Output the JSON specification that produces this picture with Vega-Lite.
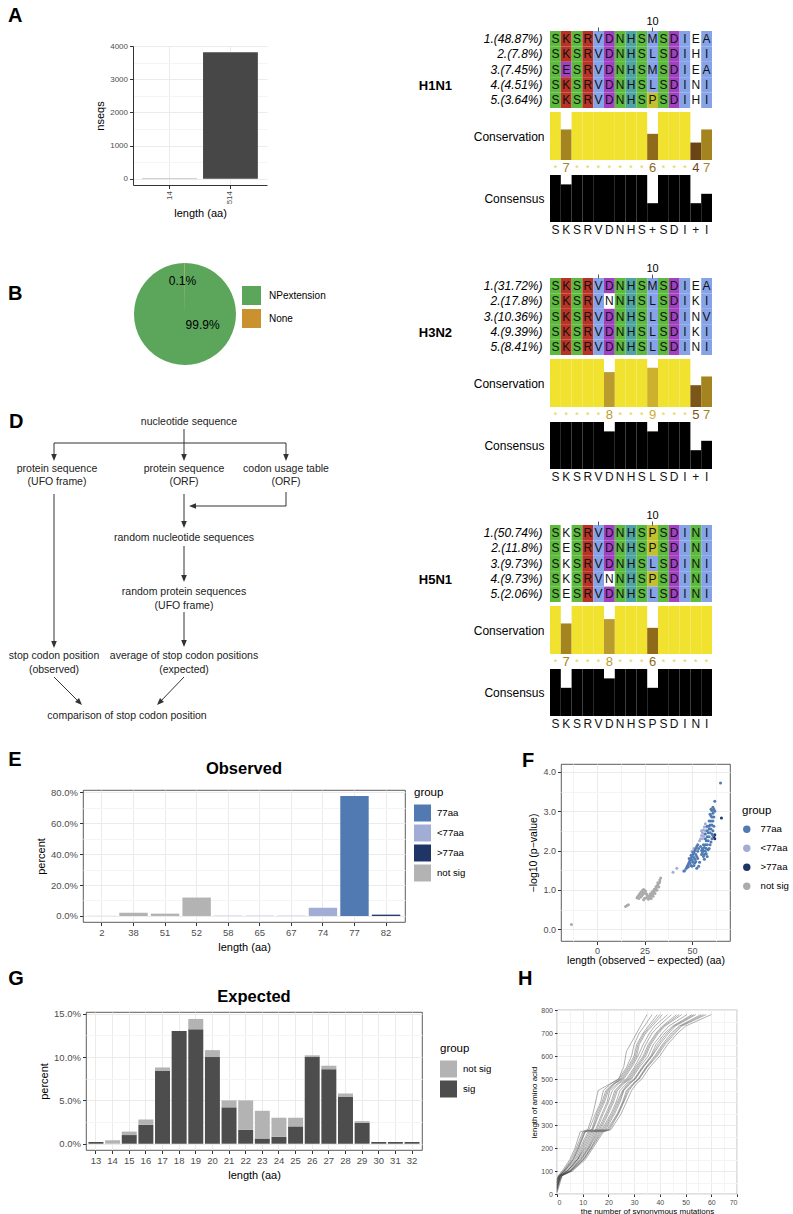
{
"$schema":"https://vega.github.io/schema/vega-lite/v6.json",
"background":"white",
"padding":{"left":7,"top":5,"right":0,"bottom":0},
"config":{
 "font":"Liberation Sans",
 "view":{"stroke":"#333333","strokeWidth":0.8},
 "axis":{"labelColor":"#4D4D4D","labelFontSize":9.5,"titleColor":"#000000","titleFontSize":11,"titleFontWeight":"normal","tickColor":"#333333","tickSize":3.5,"domain":false,"gridColor":"#EBEBEB","gridWidth":1,"labelPadding":2,"titlePadding":4},
 "legend":{"titleFontSize":11.5,"titleFontWeight":"normal","titleColor":"#000000","labelFontSize":9.6,"labelColor":"#000000","symbolStrokeWidth":0},
 "title":{"fontSize":20,"fontWeight":"bold","color":"#000000","anchor":"start"}
},
"spacing":18,
"resolve":{"scale":{"color":"independent"},"legend":{"color":"independent"}},
"vconcat":[
{
 "spacing":89,
 "resolve":{"scale":{"color":"independent"},"legend":{"color":"independent"}},
 "hconcat":[
 {
  "spacing":0,
  "resolve":{"scale":{"color":"independent"},"legend":{"color":"independent"}},
  "vconcat":[
  {"width":1,"height":1,"view":{"stroke":null},"data":{"values":[]},"mark":"point"},
  {
  "spacing":43,
  "resolve":{"scale":{"color":"independent"},"legend":{"color":"independent"}},
  "vconcat":[
  {"spacing":0,"resolve":{"scale":{"color":"independent"},"legend":{"color":"independent"}},"hconcat":[
  {"width":1,"height":1,"view":{"stroke":null},"data":{"values":[]},"mark":"point"},
  {
   "title":{"text":"A","frame":"group","dx":-125,"offset":16},
   "width":134,"height":139,
   "view":{"stroke":null},
   "data":{"values":[{"len":14,"n":5},{"len":514,"n":3810}]},
   "mark":{"type":"bar","color":"#474747"},
   "encoding":{
    "x":{"field":"len","type":"ordinal","title":"length (aa)","scale":{"paddingInner":0.1,"paddingOuter":0.15},
         "axis":{"labelAngle":-90,"labelFontSize":8,"grid":true,"bandPosition":0.5,"domain":true,"domainColor":"#333333"}},
    "y":{"field":"n","type":"quantitative","title":"nseqs","scale":{"domain":[-190,4000],"nice":false},
         "axis":{"values":[0,500,1000,1500,2000,2500,3000,3500,4000],"format":"d","labelExpr":"datum.value % 1000 == 0 ? datum.label : ''",
                 "tickOpacity":{"condition":{"test":"datum.value % 1000 != 0","value":0},"value":1},
                 "gridColor":{"condition":{"test":"datum.value % 1000 != 0","value":"#F4F4F4"},"value":"#EBEBEB"},
                 "labelFontSize":8,"domain":true,"domainColor":"#333333"}}
   }
  }]},
  {"spacing":0,"resolve":{"scale":{"color":"independent"},"legend":{"color":"independent"}},"hconcat":[
  {"width":1,"height":1,"view":{"stroke":null},"data":{"values":[]},"mark":"point"},
  {
   "title":{"text":"B","frame":"group","dx":-125,"offset":0,"dy":42},
   "width":104,"height":104,
   "view":{"stroke":null},
   "data":{"values":[{"g":"NPextension","p":99.9,"lab":"99.9%"},{"g":"None","p":0.1,"lab":"0.1%"}]},
   "encoding":{"theta":{"field":"p","type":"quantitative","stack":true}},
   "layer":[
    {"mark":{"type":"arc","outerRadius":51},
     "encoding":{"color":{"field":"g","type":"nominal","scale":{"domain":["NPextension","None"],"range":["#5CA65C","#C9922E"]},
       "legend":{"title":null,"orient":"none","legendX":109,"legendY":24,"symbolType":"square","symbolSize":361,"labelFontSize":10,"rowPadding":4,"labelOffset":8}}}},
    {"mark":{"type":"text","fontSize":12,"color":"#000000","radius":{"expr":"datum.g == 'None' ? 33 : 21"},"thetaOffset":{"expr":"datum.g == 'None' ? -0.08 : -1.0"}},
     "encoding":{"text":{"field":"lab"}}}
   ]
  }]},
  {"spacing":0,"resolve":{"scale":{"color":"independent"},"legend":{"color":"independent"}},"hconcat":[
  {"width":1,"height":1,"view":{"stroke":null},"data":{"values":[]},"mark":"point"},
  {
   "title":{"text":"D","frame":"group","dx":0,"offset":0,"dy":23},
   "width":312,"height":318,
   "view":{"stroke":null},
   "layer":[
    {"data":{"values":[
      {"x1":175,"y1":20,"x2":175,"y2":50},
      {"x1":45,"y1":34,"x2":277,"y2":34},
      {"x1":45,"y1":34,"x2":45,"y2":50},
      {"x1":277,"y1":34,"x2":277,"y2":50},
      {"x1":277,"y1":83,"x2":277,"y2":97},
      {"x1":277,"y1":97,"x2":184,"y2":97},
      {"x1":175,"y1":85,"x2":175,"y2":117},
      {"x1":175,"y1":137,"x2":175,"y2":171},
      {"x1":175,"y1":203,"x2":175,"y2":236},
      {"x1":45,"y1":85,"x2":45,"y2":237},
      {"x1":45,"y1":268,"x2":71,"y2":294},
      {"x1":175,"y1":268,"x2":150,"y2":294}
     ]},
     "mark":{"type":"rule","color":"#333333","strokeWidth":1},
     "encoding":{
      "x":{"field":"x1","type":"quantitative","scale":{"domain":[0,312],"nice":false},"axis":null},
      "y":{"field":"y1","type":"quantitative","scale":{"domain":[0,318],"nice":false,"reverse":true},"axis":null},
      "x2":{"field":"x2"},"y2":{"field":"y2"}}},
    {"data":{"values":[
      {"x":175,"y":52,"ang":0},{"x":45,"y":52,"ang":0},{"x":277,"y":52,"ang":0},
      {"x":180,"y":97,"ang":90},{"x":175,"y":119,"ang":0},{"x":175,"y":173,"ang":0},
      {"x":175,"y":238,"ang":0},{"x":45,"y":239,"ang":0},
      {"x":73,"y":296,"ang":-45},{"x":148,"y":296,"ang":45}
     ]},
     "mark":{"type":"point","shape":"M0,0L-0.4,-1L0.4,-1Z","filled":true,"color":"#333333","size":196,"opacity":1,"strokeWidth":0},
     "encoding":{
      "x":{"field":"x","type":"quantitative","scale":{"domain":[0,312],"nice":false},"axis":null},
      "y":{"field":"y","type":"quantitative","scale":{"domain":[0,318],"nice":false,"reverse":true},"axis":null},
      "angle":{"field":"ang","type":"quantitative","scale":null}}},
    {"data":{"values":[
      {"t":"nucleotide sequence","x":180,"y":13},
      {"t":"protein sequence","x":48,"y":60},{"t":"(UFO frame)","x":48,"y":73},
      {"t":"protein sequence","x":175,"y":60},{"t":"(ORF)","x":175,"y":73},
      {"t":"codon usage table","x":277,"y":60},{"t":"(ORF)","x":277,"y":73},
      {"t":"random nucleotide sequences","x":175,"y":129},
      {"t":"random protein sequences","x":175,"y":183},{"t":"(UFO frame)","x":175,"y":197},
      {"t":"stop codon position","x":45,"y":247},{"t":"(observed)","x":45,"y":261},
      {"t":"average of stop codon positions","x":175,"y":247},{"t":"(expected)","x":175,"y":261},
      {"t":"comparison of stop codon position","x":118,"y":307}
     ]},
     "mark":{"type":"text","fontSize":10.5,"color":"#222222"},
     "encoding":{
      "x":{"field":"x","type":"quantitative","scale":{"domain":[0,312],"nice":false},"axis":null},
      "y":{"field":"y","type":"quantitative","scale":{"domain":[0,318],"nice":false,"reverse":true},"axis":null},
      "text":{"field":"t"}}}
   ]
  }]}
  ]
  }
  ]
 },
 {
  "spacing":9,
  "resolve":{"scale":{"color":"independent"},"legend":{"color":"independent"}},
  "vconcat":[
  {"width":1,"height":1,"view":{"stroke":null},"data":{"values":[]},"mark":"point"},
  {
  "spacing":25,
  "resolve":{"scale":{"color":"independent"},"legend":{"color":"independent"}},
  "vconcat":[
  {
   "title":{"text":"H1N1","orient":"left","angle":0,"align":"right","baseline":"middle","anchor":"middle","fontSize":13,"fontWeight":"bold","offset":0,"dx":12,"dy":-40},
   "spacing":0,
   "bounds":"flush",
   "resolve":{"scale":{"color":"independent"},"legend":{"color":"independent"}},
   "vconcat":[
    {"width":162,"height":77,"view":{"stroke":null},
     "data":{"values":[
{"r":"1.(48.87%)","p":1,"a":"S","c":"g"},{"r":"1.(48.87%)","p":2,"a":"K","c":"r"},{"r":"1.(48.87%)","p":3,"a":"S","c":"g"},{"r":"1.(48.87%)","p":4,"a":"R","c":"r"},{"r":"1.(48.87%)","p":5,"a":"V","c":"b"},{"r":"1.(48.87%)","p":6,"a":"D","c":"m"},{"r":"1.(48.87%)","p":7,"a":"N","c":"g"},{"r":"1.(48.87%)","p":8,"a":"H","c":"t"},{"r":"1.(48.87%)","p":9,"a":"S","c":"g"},{"r":"1.(48.87%)","p":10,"a":"M","c":"b"},{"r":"1.(48.87%)","p":11,"a":"S","c":"g"},{"r":"1.(48.87%)","p":12,"a":"D","c":"m"},{"r":"1.(48.87%)","p":13,"a":"I","c":"b"},{"r":"1.(48.87%)","p":14,"a":"E","c":"w"},{"r":"1.(48.87%)","p":15,"a":"A","c":"b"},
{"r":"2.(7.8%)","p":1,"a":"S","c":"g"},{"r":"2.(7.8%)","p":2,"a":"K","c":"r"},{"r":"2.(7.8%)","p":3,"a":"S","c":"g"},{"r":"2.(7.8%)","p":4,"a":"R","c":"r"},{"r":"2.(7.8%)","p":5,"a":"V","c":"b"},{"r":"2.(7.8%)","p":6,"a":"D","c":"m"},{"r":"2.(7.8%)","p":7,"a":"N","c":"g"},{"r":"2.(7.8%)","p":8,"a":"H","c":"t"},{"r":"2.(7.8%)","p":9,"a":"S","c":"g"},{"r":"2.(7.8%)","p":10,"a":"L","c":"b"},{"r":"2.(7.8%)","p":11,"a":"S","c":"g"},{"r":"2.(7.8%)","p":12,"a":"D","c":"m"},{"r":"2.(7.8%)","p":13,"a":"I","c":"b"},{"r":"2.(7.8%)","p":14,"a":"H","c":"w"},{"r":"2.(7.8%)","p":15,"a":"I","c":"b"},
{"r":"3.(7.45%)","p":1,"a":"S","c":"g"},{"r":"3.(7.45%)","p":2,"a":"E","c":"m"},{"r":"3.(7.45%)","p":3,"a":"S","c":"g"},{"r":"3.(7.45%)","p":4,"a":"R","c":"r"},{"r":"3.(7.45%)","p":5,"a":"V","c":"b"},{"r":"3.(7.45%)","p":6,"a":"D","c":"m"},{"r":"3.(7.45%)","p":7,"a":"N","c":"g"},{"r":"3.(7.45%)","p":8,"a":"H","c":"t"},{"r":"3.(7.45%)","p":9,"a":"S","c":"g"},{"r":"3.(7.45%)","p":10,"a":"M","c":"b"},{"r":"3.(7.45%)","p":11,"a":"S","c":"g"},{"r":"3.(7.45%)","p":12,"a":"D","c":"m"},{"r":"3.(7.45%)","p":13,"a":"I","c":"b"},{"r":"3.(7.45%)","p":14,"a":"E","c":"w"},{"r":"3.(7.45%)","p":15,"a":"A","c":"b"},
{"r":"4.(4.51%)","p":1,"a":"S","c":"g"},{"r":"4.(4.51%)","p":2,"a":"K","c":"r"},{"r":"4.(4.51%)","p":3,"a":"S","c":"g"},{"r":"4.(4.51%)","p":4,"a":"R","c":"r"},{"r":"4.(4.51%)","p":5,"a":"V","c":"b"},{"r":"4.(4.51%)","p":6,"a":"D","c":"m"},{"r":"4.(4.51%)","p":7,"a":"N","c":"g"},{"r":"4.(4.51%)","p":8,"a":"H","c":"t"},{"r":"4.(4.51%)","p":9,"a":"S","c":"g"},{"r":"4.(4.51%)","p":10,"a":"L","c":"b"},{"r":"4.(4.51%)","p":11,"a":"S","c":"g"},{"r":"4.(4.51%)","p":12,"a":"D","c":"m"},{"r":"4.(4.51%)","p":13,"a":"I","c":"b"},{"r":"4.(4.51%)","p":14,"a":"N","c":"w"},{"r":"4.(4.51%)","p":15,"a":"I","c":"b"},
{"r":"5.(3.64%)","p":1,"a":"S","c":"g"},{"r":"5.(3.64%)","p":2,"a":"K","c":"r"},{"r":"5.(3.64%)","p":3,"a":"S","c":"g"},{"r":"5.(3.64%)","p":4,"a":"R","c":"r"},{"r":"5.(3.64%)","p":5,"a":"V","c":"b"},{"r":"5.(3.64%)","p":6,"a":"D","c":"m"},{"r":"5.(3.64%)","p":7,"a":"N","c":"g"},{"r":"5.(3.64%)","p":8,"a":"H","c":"t"},{"r":"5.(3.64%)","p":9,"a":"S","c":"g"},{"r":"5.(3.64%)","p":10,"a":"P","c":"y"},{"r":"5.(3.64%)","p":11,"a":"S","c":"g"},{"r":"5.(3.64%)","p":12,"a":"D","c":"m"},{"r":"5.(3.64%)","p":13,"a":"I","c":"b"},{"r":"5.(3.64%)","p":14,"a":"H","c":"w"},{"r":"5.(3.64%)","p":15,"a":"I","c":"b"}
     ]},
     "encoding":{
      "x":{"field":"p","type":"ordinal","scale":{"paddingInner":0,"paddingOuter":0},"axis":{"orient":"top","values":[5,10],"labelExpr":"datum.value == 10 ? '10' : ''","title":null,"grid":false,"tickSize":4,"tickColor":"#555555","labelAngle":0,"labelFontSize":11,"labelColor":"#000000","labelPadding":1}},
      "y":{"field":"r","type":"ordinal","sort":null,"scale":{"paddingInner":0,"paddingOuter":0},"axis":{"title":null,"ticks":false,"grid":false,"labelFontSize":12,"labelFontStyle":"italic","labelColor":"#000000","labelPadding":8}}
     },
     "layer":[
      {"mark":{"type":"rect"},"encoding":{"color":{"field":"c","type":"nominal","scale":{"domain":["g","r","b","m","t","y","w"],"range":["#5CBA3C","#B83226","#86A3E8","#A23FC2","#4FA3A3","#C4BF2F","#FFFFFF"]},"legend":null}}},
      {"mark":{"type":"text","fontSize":12,"color":"#111111"},"encoding":{"text":{"field":"a"}}}
     ]},
    {"width":162,"height":52,"view":{"stroke":null},
     "data":{"values":[{"p":1,"v":11,"s":"*"},{"p":2,"v":7,"s":"7"},{"p":3,"v":11,"s":"*"},{"p":4,"v":11,"s":"*"},{"p":5,"v":11,"s":"*"},{"p":6,"v":11,"s":"*"},{"p":7,"v":11,"s":"*"},{"p":8,"v":11,"s":"*"},{"p":9,"v":11,"s":"*"},{"p":10,"v":6,"s":"6"},{"p":11,"v":11,"s":"*"},{"p":12,"v":11,"s":"*"},{"p":13,"v":11,"s":"*"},{"p":14,"v":4,"s":"4"},{"p":15,"v":7,"s":"7"}]},
     "mark":{"type":"bar"},
     "encoding":{
      "x":{"field":"p","type":"ordinal","scale":{"paddingInner":0,"paddingOuter":0},"axis":null},
      "y":{"field":"v","type":"quantitative","scale":{"domain":[0,11.92],"nice":false},"axis":{"title":"Conservation","titleAngle":0,"titleAlign":"right","titleBaseline":"middle","titleX":-6,"titleY":28,"titleFontSize":12,"labels":false,"ticks":false,"grid":false}},
      "color":{"field":"s","type":"nominal","scale":{"domain":["*","9","8","7","6","5","4"],"range":["#F0E22F","#CDB12C","#B99C2D","#A3841F","#8E6A1A","#7C5518","#6B4415"]},"legend":null}
     }},
    {"width":162,"height":15,"view":{"stroke":null},
     "data":{"values":[{"p":1,"s":"*"},{"p":2,"s":"7"},{"p":3,"s":"*"},{"p":4,"s":"*"},{"p":5,"s":"*"},{"p":6,"s":"*"},{"p":7,"s":"*"},{"p":8,"s":"*"},{"p":9,"s":"*"},{"p":10,"s":"6"},{"p":11,"s":"*"},{"p":12,"s":"*"},{"p":13,"s":"*"},{"p":14,"s":"4"},{"p":15,"s":"7"}]},
     "mark":{"type":"text","baseline":"middle"},
     "encoding":{
      "x":{"field":"p","type":"ordinal","scale":{"paddingInner":0,"paddingOuter":0},"axis":null},
      "text":{"field":"s"},
      "size":{"condition":{"test":"datum.s == '*'","value":9},"value":13},
      "color":{"field":"s","type":"nominal","scale":{"domain":["*","9","8","7","6","5","4"],"range":["#E6D43A","#C9AE2E","#B99C2D","#A3841F","#8E6A1A","#7C5518","#6B4415"]},"legend":null}
     }},
    {"width":162,"height":47,"view":{"stroke":null},
     "data":{"values":[{"p":1,"v":100},{"p":2,"v":80},{"p":3,"v":100},{"p":4,"v":100},{"p":5,"v":100},{"p":6,"v":100},{"p":7,"v":100},{"p":8,"v":100},{"p":9,"v":100},{"p":10,"v":40},{"p":11,"v":100},{"p":12,"v":100},{"p":13,"v":100},{"p":14,"v":40},{"p":15,"v":60}]},
     "mark":{"type":"bar","color":"#000000"},
     "encoding":{
      "x":{"field":"p","type":"ordinal","scale":{"paddingInner":0,"paddingOuter":0},"axis":null},
      "y":{"field":"v","type":"quantitative","scale":{"domain":[0,100],"nice":false},"axis":{"title":"Consensus","titleAngle":0,"titleAlign":"right","titleBaseline":"middle","titleX":-6,"titleY":23,"titleFontSize":12,"labels":false,"ticks":false,"grid":false}}
     }},
    {"width":162,"height":15,"view":{"stroke":null},
     "data":{"values":[{"p":1,"l":"S"},{"p":2,"l":"K"},{"p":3,"l":"S"},{"p":4,"l":"R"},{"p":5,"l":"V"},{"p":6,"l":"D"},{"p":7,"l":"N"},{"p":8,"l":"H"},{"p":9,"l":"S"},{"p":10,"l":"+"},{"p":11,"l":"S"},{"p":12,"l":"D"},{"p":13,"l":"I"},{"p":14,"l":"+"},{"p":15,"l":"I"}]},
     "mark":{"type":"text","fontSize":12,"color":"#111111"},
     "encoding":{"x":{"field":"p","type":"ordinal","scale":{"paddingInner":0,"paddingOuter":0},"axis":null},"text":{"field":"l"}}}
   ]
  },
  {
   "title":{"text":"H3N2","orient":"left","angle":0,"align":"right","baseline":"middle","anchor":"middle","fontSize":13,"fontWeight":"bold","offset":0,"dx":12,"dy":-40},
   "spacing":0,
   "bounds":"flush",
   "resolve":{"scale":{"color":"independent"},"legend":{"color":"independent"}},
   "vconcat":[
    {"width":162,"height":77,"view":{"stroke":null},
     "data":{"values":[
{"r":"1.(31.72%)","p":1,"a":"S","c":"g"},{"r":"1.(31.72%)","p":2,"a":"K","c":"r"},{"r":"1.(31.72%)","p":3,"a":"S","c":"g"},{"r":"1.(31.72%)","p":4,"a":"R","c":"r"},{"r":"1.(31.72%)","p":5,"a":"V","c":"b"},{"r":"1.(31.72%)","p":6,"a":"D","c":"m"},{"r":"1.(31.72%)","p":7,"a":"N","c":"g"},{"r":"1.(31.72%)","p":8,"a":"H","c":"t"},{"r":"1.(31.72%)","p":9,"a":"S","c":"g"},{"r":"1.(31.72%)","p":10,"a":"M","c":"b"},{"r":"1.(31.72%)","p":11,"a":"S","c":"g"},{"r":"1.(31.72%)","p":12,"a":"D","c":"m"},{"r":"1.(31.72%)","p":13,"a":"I","c":"b"},{"r":"1.(31.72%)","p":14,"a":"E","c":"w"},{"r":"1.(31.72%)","p":15,"a":"A","c":"b"},
{"r":"2.(17.8%)","p":1,"a":"S","c":"g"},{"r":"2.(17.8%)","p":2,"a":"K","c":"r"},{"r":"2.(17.8%)","p":3,"a":"S","c":"g"},{"r":"2.(17.8%)","p":4,"a":"R","c":"r"},{"r":"2.(17.8%)","p":5,"a":"V","c":"b"},{"r":"2.(17.8%)","p":6,"a":"N","c":"w"},{"r":"2.(17.8%)","p":7,"a":"N","c":"g"},{"r":"2.(17.8%)","p":8,"a":"H","c":"t"},{"r":"2.(17.8%)","p":9,"a":"S","c":"g"},{"r":"2.(17.8%)","p":10,"a":"L","c":"b"},{"r":"2.(17.8%)","p":11,"a":"S","c":"g"},{"r":"2.(17.8%)","p":12,"a":"D","c":"m"},{"r":"2.(17.8%)","p":13,"a":"I","c":"b"},{"r":"2.(17.8%)","p":14,"a":"K","c":"w"},{"r":"2.(17.8%)","p":15,"a":"I","c":"b"},
{"r":"3.(10.36%)","p":1,"a":"S","c":"g"},{"r":"3.(10.36%)","p":2,"a":"K","c":"r"},{"r":"3.(10.36%)","p":3,"a":"S","c":"g"},{"r":"3.(10.36%)","p":4,"a":"R","c":"r"},{"r":"3.(10.36%)","p":5,"a":"V","c":"b"},{"r":"3.(10.36%)","p":6,"a":"D","c":"m"},{"r":"3.(10.36%)","p":7,"a":"N","c":"g"},{"r":"3.(10.36%)","p":8,"a":"H","c":"t"},{"r":"3.(10.36%)","p":9,"a":"S","c":"g"},{"r":"3.(10.36%)","p":10,"a":"L","c":"b"},{"r":"3.(10.36%)","p":11,"a":"S","c":"g"},{"r":"3.(10.36%)","p":12,"a":"D","c":"m"},{"r":"3.(10.36%)","p":13,"a":"I","c":"b"},{"r":"3.(10.36%)","p":14,"a":"N","c":"w"},{"r":"3.(10.36%)","p":15,"a":"V","c":"b"},
{"r":"4.(9.39%)","p":1,"a":"S","c":"g"},{"r":"4.(9.39%)","p":2,"a":"K","c":"r"},{"r":"4.(9.39%)","p":3,"a":"S","c":"g"},{"r":"4.(9.39%)","p":4,"a":"R","c":"r"},{"r":"4.(9.39%)","p":5,"a":"V","c":"b"},{"r":"4.(9.39%)","p":6,"a":"D","c":"m"},{"r":"4.(9.39%)","p":7,"a":"N","c":"g"},{"r":"4.(9.39%)","p":8,"a":"H","c":"t"},{"r":"4.(9.39%)","p":9,"a":"S","c":"g"},{"r":"4.(9.39%)","p":10,"a":"L","c":"b"},{"r":"4.(9.39%)","p":11,"a":"S","c":"g"},{"r":"4.(9.39%)","p":12,"a":"D","c":"m"},{"r":"4.(9.39%)","p":13,"a":"I","c":"b"},{"r":"4.(9.39%)","p":14,"a":"K","c":"w"},{"r":"4.(9.39%)","p":15,"a":"I","c":"b"},
{"r":"5.(8.41%)","p":1,"a":"S","c":"g"},{"r":"5.(8.41%)","p":2,"a":"K","c":"r"},{"r":"5.(8.41%)","p":3,"a":"S","c":"g"},{"r":"5.(8.41%)","p":4,"a":"R","c":"r"},{"r":"5.(8.41%)","p":5,"a":"V","c":"b"},{"r":"5.(8.41%)","p":6,"a":"D","c":"m"},{"r":"5.(8.41%)","p":7,"a":"N","c":"g"},{"r":"5.(8.41%)","p":8,"a":"H","c":"t"},{"r":"5.(8.41%)","p":9,"a":"S","c":"g"},{"r":"5.(8.41%)","p":10,"a":"L","c":"b"},{"r":"5.(8.41%)","p":11,"a":"S","c":"g"},{"r":"5.(8.41%)","p":12,"a":"D","c":"m"},{"r":"5.(8.41%)","p":13,"a":"I","c":"b"},{"r":"5.(8.41%)","p":14,"a":"N","c":"w"},{"r":"5.(8.41%)","p":15,"a":"I","c":"b"}
     ]},
     "encoding":{
      "x":{"field":"p","type":"ordinal","scale":{"paddingInner":0,"paddingOuter":0},"axis":{"orient":"top","values":[5,10],"labelExpr":"datum.value == 10 ? '10' : ''","title":null,"grid":false,"tickSize":4,"tickColor":"#555555","labelAngle":0,"labelFontSize":11,"labelColor":"#000000","labelPadding":1}},
      "y":{"field":"r","type":"ordinal","sort":null,"scale":{"paddingInner":0,"paddingOuter":0},"axis":{"title":null,"ticks":false,"grid":false,"labelFontSize":12,"labelFontStyle":"italic","labelColor":"#000000","labelPadding":8}}
     },
     "layer":[
      {"mark":{"type":"rect"},"encoding":{"color":{"field":"c","type":"nominal","scale":{"domain":["g","r","b","m","t","y","w"],"range":["#5CBA3C","#B83226","#86A3E8","#A23FC2","#4FA3A3","#C4BF2F","#FFFFFF"]},"legend":null}}},
      {"mark":{"type":"text","fontSize":12,"color":"#111111"},"encoding":{"text":{"field":"a"}}}
     ]},
    {"width":162,"height":52,"view":{"stroke":null},
     "data":{"values":[{"p":1,"v":11,"s":"*"},{"p":2,"v":11,"s":"*"},{"p":3,"v":11,"s":"*"},{"p":4,"v":11,"s":"*"},{"p":5,"v":11,"s":"*"},{"p":6,"v":8,"s":"8"},{"p":7,"v":11,"s":"*"},{"p":8,"v":11,"s":"*"},{"p":9,"v":11,"s":"*"},{"p":10,"v":9,"s":"9"},{"p":11,"v":11,"s":"*"},{"p":12,"v":11,"s":"*"},{"p":13,"v":11,"s":"*"},{"p":14,"v":5,"s":"5"},{"p":15,"v":7,"s":"7"}]},
     "mark":{"type":"bar"},
     "encoding":{
      "x":{"field":"p","type":"ordinal","scale":{"paddingInner":0,"paddingOuter":0},"axis":null},
      "y":{"field":"v","type":"quantitative","scale":{"domain":[0,11.92],"nice":false},"axis":{"title":"Conservation","titleAngle":0,"titleAlign":"right","titleBaseline":"middle","titleX":-6,"titleY":28,"titleFontSize":12,"labels":false,"ticks":false,"grid":false}},
      "color":{"field":"s","type":"nominal","scale":{"domain":["*","9","8","7","6","5","4"],"range":["#F0E22F","#CDB12C","#B99C2D","#A3841F","#8E6A1A","#7C5518","#6B4415"]},"legend":null}
     }},
    {"width":162,"height":15,"view":{"stroke":null},
     "data":{"values":[{"p":1,"s":"*"},{"p":2,"s":"*"},{"p":3,"s":"*"},{"p":4,"s":"*"},{"p":5,"s":"*"},{"p":6,"s":"8"},{"p":7,"s":"*"},{"p":8,"s":"*"},{"p":9,"s":"*"},{"p":10,"s":"9"},{"p":11,"s":"*"},{"p":12,"s":"*"},{"p":13,"s":"*"},{"p":14,"s":"5"},{"p":15,"s":"7"}]},
     "mark":{"type":"text","baseline":"middle"},
     "encoding":{
      "x":{"field":"p","type":"ordinal","scale":{"paddingInner":0,"paddingOuter":0},"axis":null},
      "text":{"field":"s"},
      "size":{"condition":{"test":"datum.s == '*'","value":9},"value":13},
      "color":{"field":"s","type":"nominal","scale":{"domain":["*","9","8","7","6","5","4"],"range":["#E6D43A","#C9AE2E","#B99C2D","#A3841F","#8E6A1A","#7C5518","#6B4415"]},"legend":null}
     }},
    {"width":162,"height":47,"view":{"stroke":null},
     "data":{"values":[{"p":1,"v":100},{"p":2,"v":100},{"p":3,"v":100},{"p":4,"v":100},{"p":5,"v":100},{"p":6,"v":80},{"p":7,"v":100},{"p":8,"v":100},{"p":9,"v":100},{"p":10,"v":80},{"p":11,"v":100},{"p":12,"v":100},{"p":13,"v":100},{"p":14,"v":40},{"p":15,"v":60}]},
     "mark":{"type":"bar","color":"#000000"},
     "encoding":{
      "x":{"field":"p","type":"ordinal","scale":{"paddingInner":0,"paddingOuter":0},"axis":null},
      "y":{"field":"v","type":"quantitative","scale":{"domain":[0,100],"nice":false},"axis":{"title":"Consensus","titleAngle":0,"titleAlign":"right","titleBaseline":"middle","titleX":-6,"titleY":23,"titleFontSize":12,"labels":false,"ticks":false,"grid":false}}
     }},
    {"width":162,"height":15,"view":{"stroke":null},
     "data":{"values":[{"p":1,"l":"S"},{"p":2,"l":"K"},{"p":3,"l":"S"},{"p":4,"l":"R"},{"p":5,"l":"V"},{"p":6,"l":"D"},{"p":7,"l":"N"},{"p":8,"l":"H"},{"p":9,"l":"S"},{"p":10,"l":"L"},{"p":11,"l":"S"},{"p":12,"l":"D"},{"p":13,"l":"I"},{"p":14,"l":"+"},{"p":15,"l":"I"}]},
     "mark":{"type":"text","fontSize":12,"color":"#111111"},
     "encoding":{"x":{"field":"p","type":"ordinal","scale":{"paddingInner":0,"paddingOuter":0},"axis":null},"text":{"field":"l"}}}
   ]
  },
  {
   "title":{"text":"H5N1","orient":"left","angle":0,"align":"right","baseline":"middle","anchor":"middle","fontSize":13,"fontWeight":"bold","offset":0,"dx":12,"dy":-40},
   "spacing":0,
   "bounds":"flush",
   "resolve":{"scale":{"color":"independent"},"legend":{"color":"independent"}},
   "vconcat":[
    {"width":162,"height":77,"view":{"stroke":null},
     "data":{"values":[
{"r":"1.(50.74%)","p":1,"a":"S","c":"g"},{"r":"1.(50.74%)","p":2,"a":"K","c":"w"},{"r":"1.(50.74%)","p":3,"a":"S","c":"g"},{"r":"1.(50.74%)","p":4,"a":"R","c":"r"},{"r":"1.(50.74%)","p":5,"a":"V","c":"b"},{"r":"1.(50.74%)","p":6,"a":"D","c":"m"},{"r":"1.(50.74%)","p":7,"a":"N","c":"g"},{"r":"1.(50.74%)","p":8,"a":"H","c":"t"},{"r":"1.(50.74%)","p":9,"a":"S","c":"g"},{"r":"1.(50.74%)","p":10,"a":"P","c":"y"},{"r":"1.(50.74%)","p":11,"a":"S","c":"g"},{"r":"1.(50.74%)","p":12,"a":"D","c":"m"},{"r":"1.(50.74%)","p":13,"a":"I","c":"b"},{"r":"1.(50.74%)","p":14,"a":"N","c":"g"},{"r":"1.(50.74%)","p":15,"a":"I","c":"b"},
{"r":"2.(11.8%)","p":1,"a":"S","c":"g"},{"r":"2.(11.8%)","p":2,"a":"E","c":"w"},{"r":"2.(11.8%)","p":3,"a":"S","c":"g"},{"r":"2.(11.8%)","p":4,"a":"R","c":"r"},{"r":"2.(11.8%)","p":5,"a":"V","c":"b"},{"r":"2.(11.8%)","p":6,"a":"D","c":"m"},{"r":"2.(11.8%)","p":7,"a":"N","c":"g"},{"r":"2.(11.8%)","p":8,"a":"H","c":"t"},{"r":"2.(11.8%)","p":9,"a":"S","c":"g"},{"r":"2.(11.8%)","p":10,"a":"P","c":"y"},{"r":"2.(11.8%)","p":11,"a":"S","c":"g"},{"r":"2.(11.8%)","p":12,"a":"D","c":"m"},{"r":"2.(11.8%)","p":13,"a":"I","c":"b"},{"r":"2.(11.8%)","p":14,"a":"N","c":"g"},{"r":"2.(11.8%)","p":15,"a":"I","c":"b"},
{"r":"3.(9.73%)","p":1,"a":"S","c":"g"},{"r":"3.(9.73%)","p":2,"a":"K","c":"w"},{"r":"3.(9.73%)","p":3,"a":"S","c":"g"},{"r":"3.(9.73%)","p":4,"a":"R","c":"r"},{"r":"3.(9.73%)","p":5,"a":"V","c":"b"},{"r":"3.(9.73%)","p":6,"a":"D","c":"m"},{"r":"3.(9.73%)","p":7,"a":"N","c":"g"},{"r":"3.(9.73%)","p":8,"a":"H","c":"t"},{"r":"3.(9.73%)","p":9,"a":"S","c":"g"},{"r":"3.(9.73%)","p":10,"a":"L","c":"b"},{"r":"3.(9.73%)","p":11,"a":"S","c":"g"},{"r":"3.(9.73%)","p":12,"a":"D","c":"m"},{"r":"3.(9.73%)","p":13,"a":"I","c":"b"},{"r":"3.(9.73%)","p":14,"a":"N","c":"g"},{"r":"3.(9.73%)","p":15,"a":"I","c":"b"},
{"r":"4.(9.73%)","p":1,"a":"S","c":"g"},{"r":"4.(9.73%)","p":2,"a":"K","c":"w"},{"r":"4.(9.73%)","p":3,"a":"S","c":"g"},{"r":"4.(9.73%)","p":4,"a":"R","c":"r"},{"r":"4.(9.73%)","p":5,"a":"V","c":"b"},{"r":"4.(9.73%)","p":6,"a":"N","c":"w"},{"r":"4.(9.73%)","p":7,"a":"N","c":"g"},{"r":"4.(9.73%)","p":8,"a":"H","c":"t"},{"r":"4.(9.73%)","p":9,"a":"S","c":"g"},{"r":"4.(9.73%)","p":10,"a":"P","c":"y"},{"r":"4.(9.73%)","p":11,"a":"S","c":"g"},{"r":"4.(9.73%)","p":12,"a":"D","c":"m"},{"r":"4.(9.73%)","p":13,"a":"I","c":"b"},{"r":"4.(9.73%)","p":14,"a":"N","c":"g"},{"r":"4.(9.73%)","p":15,"a":"I","c":"b"},
{"r":"5.(2.06%)","p":1,"a":"S","c":"g"},{"r":"5.(2.06%)","p":2,"a":"E","c":"w"},{"r":"5.(2.06%)","p":3,"a":"S","c":"g"},{"r":"5.(2.06%)","p":4,"a":"R","c":"r"},{"r":"5.(2.06%)","p":5,"a":"V","c":"b"},{"r":"5.(2.06%)","p":6,"a":"D","c":"m"},{"r":"5.(2.06%)","p":7,"a":"N","c":"g"},{"r":"5.(2.06%)","p":8,"a":"H","c":"t"},{"r":"5.(2.06%)","p":9,"a":"S","c":"g"},{"r":"5.(2.06%)","p":10,"a":"L","c":"b"},{"r":"5.(2.06%)","p":11,"a":"S","c":"g"},{"r":"5.(2.06%)","p":12,"a":"D","c":"m"},{"r":"5.(2.06%)","p":13,"a":"I","c":"b"},{"r":"5.(2.06%)","p":14,"a":"N","c":"g"},{"r":"5.(2.06%)","p":15,"a":"I","c":"b"}
     ]},
     "encoding":{
      "x":{"field":"p","type":"ordinal","scale":{"paddingInner":0,"paddingOuter":0},"axis":{"orient":"top","values":[5,10],"labelExpr":"datum.value == 10 ? '10' : ''","title":null,"grid":false,"tickSize":4,"tickColor":"#555555","labelAngle":0,"labelFontSize":11,"labelColor":"#000000","labelPadding":1}},
      "y":{"field":"r","type":"ordinal","sort":null,"scale":{"paddingInner":0,"paddingOuter":0},"axis":{"title":null,"ticks":false,"grid":false,"labelFontSize":12,"labelFontStyle":"italic","labelColor":"#000000","labelPadding":8}}
     },
     "layer":[
      {"mark":{"type":"rect"},"encoding":{"color":{"field":"c","type":"nominal","scale":{"domain":["g","r","b","m","t","y","w"],"range":["#5CBA3C","#B83226","#86A3E8","#A23FC2","#4FA3A3","#C4BF2F","#FFFFFF"]},"legend":null}}},
      {"mark":{"type":"text","fontSize":12,"color":"#111111"},"encoding":{"text":{"field":"a"}}}
     ]},
    {"width":162,"height":52,"view":{"stroke":null},
     "data":{"values":[{"p":1,"v":11,"s":"*"},{"p":2,"v":7,"s":"7"},{"p":3,"v":11,"s":"*"},{"p":4,"v":11,"s":"*"},{"p":5,"v":11,"s":"*"},{"p":6,"v":8,"s":"8"},{"p":7,"v":11,"s":"*"},{"p":8,"v":11,"s":"*"},{"p":9,"v":11,"s":"*"},{"p":10,"v":6,"s":"6"},{"p":11,"v":11,"s":"*"},{"p":12,"v":11,"s":"*"},{"p":13,"v":11,"s":"*"},{"p":14,"v":11,"s":"*"},{"p":15,"v":11,"s":"*"}]},
     "mark":{"type":"bar"},
     "encoding":{
      "x":{"field":"p","type":"ordinal","scale":{"paddingInner":0,"paddingOuter":0},"axis":null},
      "y":{"field":"v","type":"quantitative","scale":{"domain":[0,11.92],"nice":false},"axis":{"title":"Conservation","titleAngle":0,"titleAlign":"right","titleBaseline":"middle","titleX":-6,"titleY":28,"titleFontSize":12,"labels":false,"ticks":false,"grid":false}},
      "color":{"field":"s","type":"nominal","scale":{"domain":["*","9","8","7","6","5","4"],"range":["#F0E22F","#CDB12C","#B99C2D","#A3841F","#8E6A1A","#7C5518","#6B4415"]},"legend":null}
     }},
    {"width":162,"height":15,"view":{"stroke":null},
     "data":{"values":[{"p":1,"s":"*"},{"p":2,"s":"7"},{"p":3,"s":"*"},{"p":4,"s":"*"},{"p":5,"s":"*"},{"p":6,"s":"8"},{"p":7,"s":"*"},{"p":8,"s":"*"},{"p":9,"s":"*"},{"p":10,"s":"6"},{"p":11,"s":"*"},{"p":12,"s":"*"},{"p":13,"s":"*"},{"p":14,"s":"*"},{"p":15,"s":"*"}]},
     "mark":{"type":"text","baseline":"middle"},
     "encoding":{
      "x":{"field":"p","type":"ordinal","scale":{"paddingInner":0,"paddingOuter":0},"axis":null},
      "text":{"field":"s"},
      "size":{"condition":{"test":"datum.s == '*'","value":9},"value":13},
      "color":{"field":"s","type":"nominal","scale":{"domain":["*","9","8","7","6","5","4"],"range":["#E6D43A","#C9AE2E","#B99C2D","#A3841F","#8E6A1A","#7C5518","#6B4415"]},"legend":null}
     }},
    {"width":162,"height":47,"view":{"stroke":null},
     "data":{"values":[{"p":1,"v":100},{"p":2,"v":60},{"p":3,"v":100},{"p":4,"v":100},{"p":5,"v":100},{"p":6,"v":80},{"p":7,"v":100},{"p":8,"v":100},{"p":9,"v":100},{"p":10,"v":60},{"p":11,"v":100},{"p":12,"v":100},{"p":13,"v":100},{"p":14,"v":100},{"p":15,"v":100}]},
     "mark":{"type":"bar","color":"#000000"},
     "encoding":{
      "x":{"field":"p","type":"ordinal","scale":{"paddingInner":0,"paddingOuter":0},"axis":null},
      "y":{"field":"v","type":"quantitative","scale":{"domain":[0,100],"nice":false},"axis":{"title":"Consensus","titleAngle":0,"titleAlign":"right","titleBaseline":"middle","titleX":-6,"titleY":23,"titleFontSize":12,"labels":false,"ticks":false,"grid":false}}
     }},
    {"width":162,"height":15,"view":{"stroke":null},
     "data":{"values":[{"p":1,"l":"S"},{"p":2,"l":"K"},{"p":3,"l":"S"},{"p":4,"l":"R"},{"p":5,"l":"V"},{"p":6,"l":"D"},{"p":7,"l":"N"},{"p":8,"l":"H"},{"p":9,"l":"S"},{"p":10,"l":"P"},{"p":11,"l":"S"},{"p":12,"l":"D"},{"p":13,"l":"I"},{"p":14,"l":"N"},{"p":15,"l":"I"}]},
     "mark":{"type":"text","fontSize":12,"color":"#111111"},
     "encoding":{"x":{"field":"p","type":"ordinal","scale":{"paddingInner":0,"paddingOuter":0},"axis":null},"text":{"field":"l"}}}
   ]
  }
  ]
  }
  ]
 }
 ]
},
{
 "spacing":0,
 "resolve":{"scale":{"color":"independent"},"legend":{"color":"independent"}},
 "vconcat":[
 {
  "spacing":54,
  "resolve":{"scale":{"color":"independent"},"legend":{"color":"independent"}},
  "hconcat":[
  {"spacing":0,"resolve":{"scale":{"color":"independent"},"legend":{"color":"independent"}},"vconcat":[
   {"width":1,"height":1,"view":{"stroke":null},"data":{"values":[]},"mark":"point"},
   {"spacing":0,"resolve":{"scale":{"color":"independent"},"legend":{"color":"independent"}},"hconcat":[
    {"width":1,"height":1,"view":{"stroke":null},"data":{"values":[]},"mark":"point"},
    {
     "title":{"text":"E","frame":"bounds","dx":-27,"dy":10,"offset":0},
     "resolve":{"scale":{"color":"independent"},"legend":{"color":"independent"}},
     "vconcat":[
     {
      "title":{"text":"Observed","anchor":"middle","frame":"group","fontSize":16.5,"fontWeight":"bold","offset":10},
      "width":322,"height":132,
      "data":{"values":[
       {"len":2,"pct":0.001,"grp":"not sig"},{"len":38,"pct":0.021,"grp":"not sig"},{"len":51,"pct":0.015,"grp":"not sig"},{"len":52,"pct":0.119,"grp":"not sig"},
       {"len":58,"pct":0.002,"grp":"<77aa"},{"len":65,"pct":0.002,"grp":"<77aa"},{"len":67,"pct":0.002,"grp":"<77aa"},{"len":74,"pct":0.053,"grp":"<77aa"},
       {"len":77,"pct":0.776,"grp":"77aa"},{"len":82,"pct":0.0085,"grp":">77aa"}]},
      "mark":{"type":"bar"},
      "encoding":{
       "x":{"field":"len","type":"ordinal","title":"length (aa)","scale":{"paddingInner":0.1,"paddingOuter":0.15},"axis":{"labelAngle":0,"grid":true,"bandPosition":0.5}},
       "y":{"field":"pct","type":"quantitative","title":"percent","scale":{"domain":[-0.039,0.814],"nice":false},
            "axis":{"values":[0,0.1,0.2,0.3,0.4,0.5,0.6,0.7,0.8],"labelExpr":"round(datum.value*10) % 2 == 0 ? format(datum.value, '.1%') : ''",
                    "tickOpacity":{"condition":{"test":"round(datum.value*10) % 2 == 1","value":0},"value":1},
                    "gridColor":{"condition":{"test":"round(datum.value*10) % 2 == 1","value":"#F4F4F4"},"value":"#EBEBEB"}}},
       "color":{"field":"grp","type":"nominal","scale":{"domain":["77aa","<77aa",">77aa","not sig"],"range":["#507AB1","#A2ADD5","#1F3566","#B3B3B3"]},
                "legend":{"title":"group","orient":"none","legendX":331,"legendY":-3,"symbolType":"square","symbolSize":289,"rowPadding":3,"labelOffset":6,"titlePadding":6}}
      }
     }
     ]
    }
   ]}
  ]},
  {"spacing":0,"resolve":{"scale":{"color":"independent"},"legend":{"color":"independent"}},"vconcat":[
   {"width":1,"height":1,"view":{"stroke":null},"data":{"values":[]},"mark":"point"},
   {
   "title":{"text":"F","frame":"group","dx":-39,"dy":7,"offset":0},
   "width":169,"height":177,
   "data":{"values":[
{"x":-13.5,"y":0.12,"g":"not sig"},{"x":15,"y":0.58,"g":"not sig"},{"x":15.8,"y":0.6,"g":"not sig"},{"x":16.5,"y":0.62,"g":"not sig"},
{"x":21,"y":0.8,"g":"not sig"},{"x":21.5,"y":0.83,"g":"not sig"},{"x":22,"y":0.86,"g":"not sig"},{"x":22.5,"y":0.9,"g":"not sig"},{"x":23,"y":0.93,"g":"not sig"},{"x":23.5,"y":0.96,"g":"not sig"},{"x":24,"y":0.99,"g":"not sig"},{"x":24.5,"y":1.01,"g":"not sig"},{"x":23,"y":0.82,"g":"not sig"},{"x":23.5,"y":0.85,"g":"not sig"},{"x":24,"y":0.88,"g":"not sig"},{"x":24.5,"y":0.91,"g":"not sig"},{"x":25,"y":0.94,"g":"not sig"},{"x":25.5,"y":0.97,"g":"not sig"},{"x":26,"y":0.9,"g":"not sig"},{"x":26.5,"y":0.86,"g":"not sig"},{"x":25,"y":0.79,"g":"not sig"},{"x":24.5,"y":0.75,"g":"not sig"},{"x":26,"y":0.8,"g":"not sig"},{"x":27,"y":0.84,"g":"not sig"},{"x":22,"y":0.78,"g":"not sig"},
{"x":27.5,"y":0.8,"g":"not sig"},{"x":28,"y":0.83,"g":"not sig"},{"x":28.5,"y":0.86,"g":"not sig"},{"x":29,"y":0.89,"g":"not sig"},{"x":29.5,"y":0.92,"g":"not sig"},{"x":30,"y":0.96,"g":"not sig"},{"x":30.5,"y":1.0,"g":"not sig"},{"x":31,"y":1.04,"g":"not sig"},{"x":31.5,"y":1.09,"g":"not sig"},{"x":32,"y":1.13,"g":"not sig"},{"x":32.5,"y":1.17,"g":"not sig"},{"x":33,"y":1.2,"g":"not sig"},{"x":28,"y":0.9,"g":"not sig"},{"x":29,"y":0.95,"g":"not sig"},{"x":30,"y":1.01,"g":"not sig"},{"x":31,"y":1.08,"g":"not sig"},{"x":32,"y":1.18,"g":"not sig"},{"x":33,"y":1.25,"g":"not sig"},{"x":33.5,"y":1.3,"g":"not sig"},{"x":28.5,"y":0.78,"g":"not sig"},{"x":29.5,"y":0.84,"g":"not sig"},{"x":30.5,"y":0.91,"g":"not sig"},{"x":31.5,"y":0.99,"g":"not sig"},{"x":32.5,"y":1.07,"g":"not sig"},{"x":27,"y":0.76,"g":"not sig"},
{"x":40,"y":1.45,"g":"<77aa"},{"x":42,"y":1.55,"g":"<77aa"},{"x":45.5,"y":1.48,"g":"<77aa"},{"x":46.5,"y":1.52,"g":"<77aa"},{"x":48,"y":1.62,"g":"<77aa"},{"x":50,"y":1.98,"g":"<77aa"},{"x":51,"y":2.05,"g":"<77aa"},
{"x":54,"y":2.25,"g":"<77aa"},{"x":54.5,"y":2.3,"g":"<77aa"},{"x":55,"y":2.38,"g":"<77aa"},{"x":55.5,"y":2.45,"g":"<77aa"},{"x":56,"y":2.52,"g":"<77aa"},{"x":56.5,"y":2.6,"g":"<77aa"},{"x":57,"y":2.68,"g":"<77aa"},{"x":55.5,"y":2.3,"g":"<77aa"},{"x":56,"y":2.36,"g":"<77aa"},{"x":56.5,"y":2.42,"g":"<77aa"},{"x":57,"y":2.5,"g":"<77aa"},{"x":57.5,"y":2.6,"g":"<77aa"},{"x":55,"y":2.5,"g":"<77aa"},
{"x":46,"y":1.48,"g":"77aa"},{"x":47,"y":1.55,"g":"77aa"},{"x":47.5,"y":1.6,"g":"77aa"},{"x":48,"y":1.65,"g":"77aa"},{"x":48.5,"y":1.7,"g":"77aa"},{"x":49,"y":1.75,"g":"77aa"},{"x":49.5,"y":1.8,"g":"77aa"},{"x":50,"y":1.85,"g":"77aa"},{"x":50.5,"y":1.9,"g":"77aa"},{"x":51,"y":1.95,"g":"77aa"},{"x":51.5,"y":2.0,"g":"77aa"},{"x":52,"y":2.05,"g":"77aa"},{"x":52.5,"y":2.1,"g":"77aa"},{"x":53,"y":2.15,"g":"77aa"},{"x":48,"y":1.58,"g":"77aa"},{"x":49,"y":1.68,"g":"77aa"},{"x":50,"y":1.75,"g":"77aa"},{"x":51,"y":1.82,"g":"77aa"},{"x":52,"y":1.9,"g":"77aa"},{"x":53,"y":1.98,"g":"77aa"},{"x":53.5,"y":2.05,"g":"77aa"},{"x":49.5,"y":1.62,"g":"77aa"},{"x":50.5,"y":1.7,"g":"77aa"},{"x":51.5,"y":1.78,"g":"77aa"},{"x":52.5,"y":1.85,"g":"77aa"},{"x":51,"y":1.62,"g":"77aa"},{"x":52,"y":1.72,"g":"77aa"},{"x":53,"y":1.8,"g":"77aa"},{"x":48.5,"y":1.8,"g":"77aa"},{"x":49.5,"y":1.88,"g":"77aa"},{"x":50.5,"y":1.95,"g":"77aa"},{"x":54,"y":1.7,"g":"77aa"},{"x":53.5,"y":1.6,"g":"77aa"},{"x":52.5,"y":1.55,"g":"77aa"},{"x":50,"y":1.6,"g":"77aa"},{"x":51.5,"y":1.68,"g":"77aa"},
{"x":55,"y":1.9,"g":"77aa"},{"x":55.5,"y":1.95,"g":"77aa"},{"x":56,"y":2.0,"g":"77aa"},{"x":56.5,"y":2.08,"g":"77aa"},{"x":57,"y":2.15,"g":"77aa"},{"x":57.5,"y":2.25,"g":"77aa"},{"x":58,"y":2.35,"g":"77aa"},{"x":58.5,"y":2.45,"g":"77aa"},{"x":59,"y":2.55,"g":"77aa"},{"x":59.5,"y":2.65,"g":"77aa"},{"x":60,"y":2.75,"g":"77aa"},{"x":60.5,"y":2.85,"g":"77aa"},{"x":61,"y":2.95,"g":"77aa"},{"x":61.5,"y":3.05,"g":"77aa"},{"x":56,"y":1.85,"g":"77aa"},{"x":56.5,"y":1.9,"g":"77aa"},{"x":57,"y":1.98,"g":"77aa"},{"x":57.5,"y":2.05,"g":"77aa"},{"x":58,"y":2.15,"g":"77aa"},{"x":58.5,"y":2.25,"g":"77aa"},{"x":59,"y":2.35,"g":"77aa"},{"x":59.5,"y":2.45,"g":"77aa"},{"x":60,"y":2.55,"g":"77aa"},{"x":60.5,"y":2.65,"g":"77aa"},{"x":61,"y":2.75,"g":"77aa"},{"x":61.5,"y":2.85,"g":"77aa"},{"x":62,"y":3.0,"g":"77aa"},{"x":57,"y":2.3,"g":"77aa"},{"x":58,"y":2.5,"g":"77aa"},{"x":59,"y":2.62,"g":"77aa"},{"x":60,"y":2.88,"g":"77aa"},{"x":60.5,"y":3.02,"g":"77aa"},{"x":61,"y":3.1,"g":"77aa"},{"x":55.5,"y":2.05,"g":"77aa"},{"x":56,"y":2.15,"g":"77aa"},{"x":57,"y":2.42,"g":"77aa"},{"x":58,"y":2.62,"g":"77aa"},{"x":59,"y":2.75,"g":"77aa"},{"x":59.5,"y":2.92,"g":"77aa"},{"x":60,"y":3.05,"g":"77aa"},{"x":61.5,"y":2.62,"g":"77aa"},{"x":60.5,"y":2.42,"g":"77aa"},{"x":58.5,"y":2.02,"g":"77aa"},{"x":57.5,"y":1.92,"g":"77aa"},{"x":56.5,"y":1.78,"g":"77aa"},{"x":55,"y":2.0,"g":"77aa"},{"x":54.5,"y":2.1,"g":"77aa"},{"x":62,"y":3.25,"g":"77aa"},{"x":65,"y":3.72,"g":"77aa"},{"x":59.5,"y":2.15,"g":"77aa"},{"x":60,"y":2.22,"g":"77aa"},{"x":61,"y":2.5,"g":"77aa"},{"x":58,"y":1.85,"g":"77aa"},{"x":59,"y":2.05,"g":"77aa"},{"x":60.5,"y":2.3,"g":"77aa"},{"x":61,"y":2.38,"g":"77aa"},
{"x":65.5,"y":2.83,"g":">77aa"},{"x":62,"y":2.4,"g":">77aa"},{"x":62,"y":2.3,"g":">77aa"},{"x":61.5,"y":2.35,"g":">77aa"}
   ]},
   "mark":{"type":"circle","size":9,"opacity":1},
   "encoding":{
    "x":{"field":"x","type":"quantitative","title":"length (observed − expected) (aa)","scale":{"domain":[-19,70],"nice":false,"zero":false},
         "axis":{"values":[-12.5,0,12.5,25,37.5,50,62.5],"labelExpr":"datum.value % 25 == 0 ? datum.label : ''",
                 "tickOpacity":{"condition":{"test":"datum.value % 25 != 0","value":0},"value":1},
                 "gridColor":{"condition":{"test":"datum.value % 25 != 0","value":"#F4F4F4"},"value":"#EBEBEB"},"labelFontSize":9,"titleFontSize":10.5,"titlePadding":0}},
    "y":{"field":"y","type":"quantitative","title":"−log10 (p−value)","scale":{"domain":[-0.3,4.2],"nice":false,"zero":false},
         "axis":{"values":[0,0.5,1,1.5,2,2.5,3,3.5,4],"labelExpr":"datum.value % 1 == 0 ? datum.label : ''",
                 "tickOpacity":{"condition":{"test":"datum.value % 1 != 0","value":0},"value":1},
                 "gridColor":{"condition":{"test":"datum.value % 1 != 0","value":"#F4F4F4"},"value":"#EBEBEB"},"labelFontSize":9,"titleFontSize":10.5}},
    "color":{"field":"g","type":"nominal","scale":{"domain":["77aa","<77aa",">77aa","not sig"],"range":["#507AB1","#A2ADD5","#1F3566","#ABABAB"]},
             "legend":{"title":"group","orient":"none","legendX":181,"legendY":41,"symbolType":"circle","symbolSize":55,"rowPadding":8,"labelOffset":9,"titlePadding":8}},
    "order":{"field":"g","sort":"descending"}
   }
   }
  ]}
  ]
 },
 {
  "spacing":24,
  "resolve":{"scale":{"color":"independent"},"legend":{"color":"independent"}},
  "hconcat":[
  {"spacing":0,"resolve":{"scale":{"color":"independent"},"legend":{"color":"independent"}},"vconcat":[
   {"width":1,"height":1,"view":{"stroke":null},"data":{"values":[]},"mark":"point"},
   {"spacing":0,"resolve":{"scale":{"color":"independent"},"legend":{"color":"independent"}},"hconcat":[
    {"width":1,"height":1,"view":{"stroke":null},"data":{"values":[]},"mark":"point"},
    {
     "title":{"text":"G","frame":"bounds","dx":-30,"offset":0},
     "resolve":{"scale":{"color":"independent"},"legend":{"color":"independent"}},
     "vconcat":[
     {
      "title":{"text":"Expected","anchor":"middle","frame":"group","fontSize":16.5,"fontWeight":"bold","offset":3},
      "width":336,"height":138,
      "data":{"values":[
       {"len":13,"pct":0.002,"grp":"sig"},
       {"len":14,"pct":0.004,"grp":"not sig"},
       {"len":15,"pct":0.010,"grp":"sig"},{"len":15,"pct":0.004,"grp":"not sig"},
       {"len":16,"pct":0.022,"grp":"sig"},{"len":16,"pct":0.006,"grp":"not sig"},
       {"len":17,"pct":0.084,"grp":"sig"},{"len":17,"pct":0.004,"grp":"not sig"},
       {"len":18,"pct":0.130,"grp":"sig"},
       {"len":19,"pct":0.132,"grp":"sig"},{"len":19,"pct":0.012,"grp":"not sig"},
       {"len":20,"pct":0.100,"grp":"sig"},{"len":20,"pct":0.008,"grp":"not sig"},
       {"len":21,"pct":0.042,"grp":"sig"},{"len":21,"pct":0.008,"grp":"not sig"},
       {"len":22,"pct":0.016,"grp":"sig"},{"len":22,"pct":0.034,"grp":"not sig"},
       {"len":23,"pct":0.006,"grp":"sig"},{"len":23,"pct":0.032,"grp":"not sig"},
       {"len":24,"pct":0.008,"grp":"sig"},{"len":24,"pct":0.022,"grp":"not sig"},
       {"len":25,"pct":0.020,"grp":"sig"},{"len":25,"pct":0.010,"grp":"not sig"},
       {"len":26,"pct":0.100,"grp":"sig"},{"len":26,"pct":0.002,"grp":"not sig"},
       {"len":27,"pct":0.086,"grp":"sig"},{"len":27,"pct":0.004,"grp":"not sig"},
       {"len":28,"pct":0.054,"grp":"sig"},{"len":28,"pct":0.004,"grp":"not sig"},
       {"len":29,"pct":0.024,"grp":"sig"},{"len":29,"pct":0.002,"grp":"not sig"},
       {"len":30,"pct":0.002,"grp":"sig"},{"len":31,"pct":0.002,"grp":"sig"},{"len":32,"pct":0.002,"grp":"sig"}]},
      "mark":{"type":"bar"},
      "encoding":{
       "x":{"field":"len","type":"ordinal","title":"length (aa)","scale":{"paddingInner":0.1,"paddingOuter":0.15},"axis":{"labelAngle":0,"grid":true,"bandPosition":0.5}},
       "y":{"field":"pct","type":"quantitative","title":"percent","stack":true,"scale":{"domain":[-0.00725,0.152],"nice":false},
            "axis":{"values":[0,0.025,0.05,0.075,0.1,0.125,0.15],"labelExpr":"round(datum.value*1000) % 50 == 0 ? format(datum.value, '.1%') : ''",
                    "tickOpacity":{"condition":{"test":"round(datum.value*1000) % 50 != 0","value":0},"value":1},
                    "gridColor":{"condition":{"test":"round(datum.value*1000) % 50 != 0","value":"#F4F4F4"},"value":"#EBEBEB"}}},
       "color":{"field":"grp","type":"nominal","scale":{"domain":["not sig","sig"],"range":["#B3B3B3","#4D4D4D"]},
                "legend":{"title":"group","orient":"none","legendX":354,"legendY":31,"symbolType":"square","symbolSize":289,"rowPadding":3,"labelOffset":6,"titlePadding":6}},
       "order":{"field":"grp","sort":"descending"}
      }
     }
     ]
    }
   ]}
  ]},
  {"spacing":0,"resolve":{"scale":{"color":"independent"},"legend":{"color":"independent"}},"vconcat":[
   {"width":1,"height":1,"view":{"stroke":null},"data":{"values":[]},"mark":"point"},
   {
   "title":{"text":"H","frame":"group","dx":-39,"offset":17},
   "width":180,"height":184,
   "data":{"values":[
{"s":0,"x":0,"y":60},{"s":0,"x":0.5,"y":80},{"s":0,"x":2,"y":100},{"s":0,"x":5,"y":150},{"s":0,"x":7,"y":200},{"s":0,"x":9,"y":270},{"s":0,"x":12,"y":280},{"s":0,"x":14,"y":350},{"s":0,"x":15,"y":400},{"s":0,"x":16,"y":450},{"s":0,"x":20,"y":475},{"s":0,"x":24,"y":500},{"s":0,"x":26,"y":555},{"s":0,"x":27,"y":620},{"s":0,"x":29,"y":660},{"s":0,"x":31,"y":700},{"s":0,"x":33,"y":740},{"s":0,"x":35,"y":780},
{"s":1,"x":0,"y":45},{"s":1,"x":0.7,"y":80},{"s":1,"x":2.5,"y":100},{"s":1,"x":5.5,"y":150},{"s":1,"x":7.5,"y":200},{"s":1,"x":10,"y":270},{"s":1,"x":12.5,"y":280},{"s":1,"x":15,"y":350},{"s":1,"x":17,"y":400},{"s":1,"x":18,"y":450},{"s":1,"x":21,"y":480},{"s":1,"x":24,"y":500},{"s":1,"x":27,"y":550},{"s":1,"x":29,"y":600},{"s":1,"x":30,"y":650},{"s":1,"x":32,"y":700},{"s":1,"x":34,"y":730},{"s":1,"x":37,"y":780},
{"s":2,"x":0,"y":30},{"s":2,"x":0.8,"y":80},{"s":2,"x":2.5,"y":100},{"s":2,"x":6,"y":150},{"s":2,"x":8,"y":200},{"s":2,"x":10.5,"y":270},{"s":2,"x":13.5,"y":280},{"s":2,"x":15.5,"y":350},{"s":2,"x":17.5,"y":400},{"s":2,"x":19,"y":450},{"s":2,"x":22,"y":480},{"s":2,"x":24.5,"y":500},{"s":2,"x":27.5,"y":550},{"s":2,"x":30,"y":600},{"s":2,"x":31,"y":650},{"s":2,"x":33.5,"y":700},{"s":2,"x":35.5,"y":730},{"s":2,"x":39,"y":780},
{"s":3,"x":0,"y":70},{"s":3,"x":1,"y":80},{"s":3,"x":3,"y":100},{"s":3,"x":6.5,"y":150},{"s":3,"x":8.5,"y":200},{"s":3,"x":11,"y":270},{"s":3,"x":14,"y":280},{"s":3,"x":16.5,"y":350},{"s":3,"x":18.5,"y":400},{"s":3,"x":20,"y":450},{"s":3,"x":22.5,"y":480},{"s":3,"x":25.5,"y":500},{"s":3,"x":28.5,"y":550},{"s":3,"x":31,"y":600},{"s":3,"x":32,"y":650},{"s":3,"x":34.5,"y":700},{"s":3,"x":37,"y":730},{"s":3,"x":41,"y":780},
{"s":4,"x":0,"y":20},{"s":4,"x":1,"y":80},{"s":4,"x":3,"y":100},{"s":4,"x":7,"y":150},{"s":4,"x":9,"y":200},{"s":4,"x":12,"y":270},{"s":4,"x":15,"y":280},{"s":4,"x":17.5,"y":350},{"s":4,"x":19.5,"y":400},{"s":4,"x":20.5,"y":450},{"s":4,"x":23.5,"y":480},{"s":4,"x":26,"y":500},{"s":4,"x":29,"y":550},{"s":4,"x":31.5,"y":600},{"s":4,"x":33.5,"y":650},{"s":4,"x":36,"y":700},{"s":4,"x":38,"y":730},{"s":4,"x":43,"y":780},
{"s":5,"x":0,"y":55},{"s":5,"x":1.2,"y":80},{"s":5,"x":3.5,"y":100},{"s":5,"x":7.5,"y":150},{"s":5,"x":9.5,"y":200},{"s":5,"x":12.5,"y":270},{"s":5,"x":15.5,"y":280},{"s":5,"x":18,"y":350},{"s":5,"x":20,"y":400},{"s":5,"x":21.5,"y":450},{"s":5,"x":24,"y":480},{"s":5,"x":27,"y":500},{"s":5,"x":30,"y":550},{"s":5,"x":32.5,"y":600},{"s":5,"x":34.5,"y":650},{"s":5,"x":37,"y":700},{"s":5,"x":39.5,"y":730},{"s":5,"x":44.5,"y":780},
{"s":6,"x":0,"y":10},{"s":6,"x":1.2,"y":80},{"s":6,"x":4,"y":100},{"s":6,"x":8,"y":150},{"s":6,"x":10,"y":200},{"s":6,"x":13,"y":270},{"s":6,"x":16,"y":280},{"s":6,"x":19,"y":350},{"s":6,"x":21,"y":400},{"s":6,"x":22.5,"y":450},{"s":6,"x":25,"y":480},{"s":6,"x":27.5,"y":500},{"s":6,"x":30.5,"y":550},{"s":6,"x":33.5,"y":600},{"s":6,"x":35.5,"y":650},{"s":6,"x":38.5,"y":700},{"s":6,"x":41,"y":730},{"s":6,"x":46.5,"y":780},
{"s":7,"x":0,"y":40},{"s":7,"x":1.3,"y":80},{"s":7,"x":4,"y":100},{"s":7,"x":8,"y":150},{"s":7,"x":11,"y":200},{"s":7,"x":14,"y":270},{"s":7,"x":17,"y":280},{"s":7,"x":20,"y":350},{"s":7,"x":22,"y":400},{"s":7,"x":23.5,"y":450},{"s":7,"x":26,"y":480},{"s":7,"x":28.5,"y":500},{"s":7,"x":31.5,"y":550},{"s":7,"x":34.5,"y":600},{"s":7,"x":36.5,"y":650},{"s":7,"x":39.5,"y":700},{"s":7,"x":42,"y":730},{"s":7,"x":48.5,"y":780},
{"s":8,"x":0,"y":65},{"s":8,"x":1.4,"y":80},{"s":8,"x":4.5,"y":100},{"s":8,"x":8.5,"y":150},{"s":8,"x":11.5,"y":200},{"s":8,"x":14.5,"y":270},{"s":8,"x":17.5,"y":280},{"s":8,"x":21,"y":350},{"s":8,"x":23,"y":400},{"s":8,"x":24.5,"y":450},{"s":8,"x":27,"y":480},{"s":8,"x":29,"y":500},{"s":8,"x":32,"y":550},{"s":8,"x":35.5,"y":600},{"s":8,"x":37.5,"y":650},{"s":8,"x":41,"y":700},{"s":8,"x":43.5,"y":730},{"s":8,"x":50.5,"y":780},
{"s":9,"x":0,"y":25},{"s":9,"x":1.5,"y":80},{"s":9,"x":5,"y":100},{"s":9,"x":9,"y":150},{"s":9,"x":12,"y":200},{"s":9,"x":15,"y":270},{"s":9,"x":18,"y":280},{"s":9,"x":21.5,"y":350},{"s":9,"x":23.5,"y":400},{"s":9,"x":25.5,"y":450},{"s":9,"x":27.5,"y":480},{"s":9,"x":30,"y":500},{"s":9,"x":33,"y":550},{"s":9,"x":36.5,"y":600},{"s":9,"x":38.5,"y":650},{"s":9,"x":42,"y":700},{"s":9,"x":45,"y":730},{"s":9,"x":52.5,"y":780},
{"s":10,"x":0,"y":50},{"s":10,"x":1.7,"y":80},{"s":10,"x":5,"y":100},{"s":10,"x":9.5,"y":150},{"s":10,"x":12.5,"y":200},{"s":10,"x":16,"y":270},{"s":10,"x":19,"y":280},{"s":10,"x":22.5,"y":350},{"s":10,"x":24.5,"y":400},{"s":10,"x":26,"y":450},{"s":10,"x":28.5,"y":480},{"s":10,"x":30.5,"y":500},{"s":10,"x":33.5,"y":550},{"s":10,"x":37,"y":600},{"s":10,"x":40,"y":650},{"s":10,"x":43.5,"y":700},{"s":10,"x":46,"y":730},{"s":10,"x":54,"y":780},
{"s":11,"x":0,"y":15},{"s":11,"x":1.8,"y":80},{"s":11,"x":5.5,"y":100},{"s":11,"x":10,"y":150},{"s":11,"x":13,"y":200},{"s":11,"x":16.5,"y":270},{"s":11,"x":19.5,"y":280},{"s":11,"x":23.5,"y":350},{"s":11,"x":25.5,"y":400},{"s":11,"x":27,"y":450},{"s":11,"x":29.5,"y":480},{"s":11,"x":31.5,"y":500},{"s":11,"x":34.5,"y":550},{"s":11,"x":38,"y":600},{"s":11,"x":41,"y":650},{"s":11,"x":44.5,"y":700},{"s":11,"x":47.5,"y":730},{"s":11,"x":56,"y":780},
{"s":12,"x":0,"y":35},{"s":12,"x":2,"y":80},{"s":12,"x":5.5,"y":100},{"s":12,"x":10.5,"y":150},{"s":12,"x":13.5,"y":200},{"s":12,"x":17.5,"y":270},{"s":12,"x":20.5,"y":280},{"s":12,"x":24,"y":350},{"s":12,"x":26,"y":400},{"s":12,"x":28,"y":450},{"s":12,"x":30,"y":480},{"s":12,"x":32,"y":500},{"s":12,"x":35,"y":550},{"s":12,"x":39,"y":600},{"s":12,"x":42,"y":650},{"s":12,"x":46,"y":700},{"s":12,"x":48.5,"y":730},{"s":12,"x":58,"y":780},
{"s":13,"x":0,"y":5},{"s":13,"x":2,"y":80},{"s":13,"x":6,"y":100},{"s":13,"x":11,"y":150},{"s":13,"x":14,"y":200},{"s":13,"x":18,"y":270},{"s":13,"x":21,"y":280},{"s":13,"x":25,"y":350},{"s":13,"x":27,"y":400},{"s":13,"x":29,"y":450},{"s":13,"x":31,"y":480},{"s":13,"x":33,"y":500},{"s":13,"x":36,"y":550},{"s":13,"x":40,"y":600},{"s":13,"x":43,"y":650},{"s":13,"x":47,"y":700},{"s":13,"x":50,"y":730},{"s":13,"x":60,"y":780},
{"s":14,"x":0,"y":50},{"s":14,"x":0.9,"y":80},{"s":14,"x":2.8,"y":100},{"s":14,"x":6.3,"y":150},{"s":14,"x":8.3,"y":200},{"s":14,"x":10.8,"y":270},{"s":14,"x":13.8,"y":280},{"s":14,"x":16,"y":350},{"s":14,"x":18,"y":400},{"s":14,"x":19.5,"y":450},{"s":14,"x":22.3,"y":480},{"s":14,"x":25,"y":500},{"s":14,"x":28,"y":550},{"s":14,"x":30.5,"y":600},{"s":14,"x":31.5,"y":650},{"s":14,"x":34,"y":700},{"s":14,"x":36.3,"y":730},{"s":14,"x":40,"y":780},
{"s":15,"x":0,"y":25},{"s":15,"x":1.25,"y":80},{"s":15,"x":4,"y":100},{"s":15,"x":8,"y":150},{"s":15,"x":10.5,"y":200},{"s":15,"x":13.5,"y":270},{"s":15,"x":16.5,"y":280},{"s":15,"x":19.5,"y":350},{"s":15,"x":21.5,"y":400},{"s":15,"x":23,"y":450},{"s":15,"x":25.5,"y":480},{"s":15,"x":28,"y":500},{"s":15,"x":31,"y":550},{"s":15,"x":34,"y":600},{"s":15,"x":36,"y":650},{"s":15,"x":39,"y":700},{"s":15,"x":41.5,"y":730},{"s":15,"x":47.5,"y":780},
{"s":16,"x":0,"y":62},{"s":16,"x":1.6,"y":80},{"s":16,"x":5,"y":100},{"s":16,"x":9.3,"y":150},{"s":16,"x":12.3,"y":200},{"s":16,"x":15.5,"y":270},{"s":16,"x":18.5,"y":280},{"s":16,"x":22,"y":350},{"s":16,"x":24,"y":400},{"s":16,"x":25.8,"y":450},{"s":16,"x":28,"y":480},{"s":16,"x":30.3,"y":500},{"s":16,"x":33.3,"y":550},{"s":16,"x":36.8,"y":600},{"s":16,"x":39.3,"y":650},{"s":16,"x":42.8,"y":700},{"s":16,"x":45.5,"y":730},{"s":16,"x":53.3,"y":780},
{"s":17,"x":0,"y":40},{"s":17,"x":1.9,"y":80},{"s":17,"x":5.5,"y":100},{"s":17,"x":10.3,"y":150},{"s":17,"x":13.3,"y":200},{"s":17,"x":17,"y":270},{"s":17,"x":20,"y":280},{"s":17,"x":23.8,"y":350},{"s":17,"x":25.8,"y":400},{"s":17,"x":27.5,"y":450},{"s":17,"x":29.8,"y":480},{"s":17,"x":31.8,"y":500},{"s":17,"x":34.8,"y":550},{"s":17,"x":38.5,"y":600},{"s":17,"x":41.5,"y":650},{"s":17,"x":45.3,"y":700},{"s":17,"x":48,"y":730},{"s":17,"x":57,"y":780}
   ]},
   "mark":{"type":"line","strokeWidth":0.5,"color":"#444444","opacity":0.85},
   "encoding":{
    "x":{"field":"x","type":"quantitative","title":"the number of synonymous mutations","scale":{"domain":[0,70],"nice":false},
         "axis":{"values":[0,5,10,15,20,25,30,35,40,45,50,55,60,65,70],"labelExpr":"datum.value % 10 == 0 ? datum.label : ''",
                 "tickOpacity":{"condition":{"test":"datum.value % 10 != 0","value":0},"value":1},
                 "gridColor":{"condition":{"test":"datum.value % 10 != 0","value":"#F4F4F4"},"value":"#EBEBEB"},"labelFontSize":7,"titleFontSize":8,"tickSize":2.5,"titlePadding":2}},
    "y":{"field":"y","type":"quantitative","title":"length of amino acid","scale":{"domain":[0,800],"nice":false},
         "axis":{"values":[0,50,100,150,200,250,300,350,400,450,500,550,600,650,700,750,800],"labelExpr":"datum.value % 100 == 0 ? datum.label : ''",
                 "tickOpacity":{"condition":{"test":"datum.value % 100 != 0","value":0},"value":1},
                 "gridColor":{"condition":{"test":"datum.value % 100 != 0","value":"#F4F4F4"},"value":"#EBEBEB"},"labelFontSize":7,"titleFontSize":8,"tickSize":2.5,"titlePadding":2}},
    "detail":{"field":"s","type":"nominal"},
    "order":{"field":"y","type":"quantitative"}
   }
   }
  ]}
  ]
 }
 ]
}
]
}
